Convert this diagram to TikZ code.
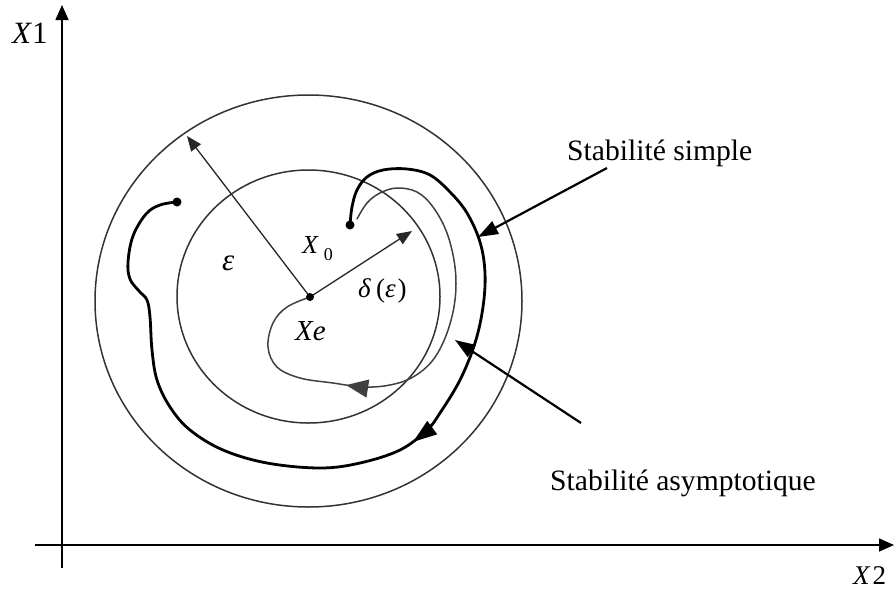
\documentclass[tikz,border=0pt]{standalone}
\usepackage{fontspec}
\setmainfont{Liberation Serif}
\usetikzlibrary{arrows.meta,decorations.markings}
\begin{document}
\begin{tikzpicture}[x=1pt,y=-1pt,
  circ/.style={line width=1.5pt, draw=black!80},
  axisline/.style={line width=1.6pt, -{Triangle[length=15pt,width=13pt]}},
  radarrow/.style={line width=1.3pt, draw=black!85, -{Triangle[length=15pt,width=12pt]}},
  labarrow/.style={line width=2.2pt, -{Triangle[length=20pt,width=14pt]}},
  thicktraj/.style={line width=2.8pt, line cap=round, line join=round},
  thintraj/.style={line width=1.5pt, draw=black!75, line cap=round, line join=round},
  lab/.style={inner sep=0pt, anchor=base west},
  dotfill/.style={fill=black}]
\useasboundingbox (0,0) rectangle (894,592);

% axes
\coordinate (ybot) at (62,568);
\coordinate (ytop) at (62,5);
\coordinate (xleft) at (35,545);
\coordinate (xright) at (894,545);
\draw[axisline] (ybot) -- (ytop);
\draw[axisline] (xleft) -- (xright);
\node[lab] (lx1) at (12,43) {\fontsize{31}{31}\selectfont\textit{X}1};
\node[lab] (lx2) at (853,584) {\fontsize{27}{27}\selectfont\textit{X}\kern2pt 2};

% circles
\draw[circ] (308.5,301) ellipse [x radius=213.5pt, y radius=206pt];
\draw[circ] (308.5,296.5) ellipse [x radius=131.5pt, y radius=126.5pt];

% centre and radii
\coordinate (xe) at (310,297);
\coordinate (epsT) at (187,136);
\coordinate (delT) at (412,231);
\draw[radarrow] (xe) -- (epsT);
\draw[radarrow] (xe) -- (delT);

% thick trajectory (simple stability)
\draw[thicktraj, postaction={decorate, decoration={markings,
   mark=at position 0.455 with {\arrow{Triangle[length=24pt,width=16pt]}}}}]
  plot[smooth, tension=0.6] coordinates {
  (350,225) (352,207) (357,190) (367,177) (383,170) (407,169) (430,175)
  (450,192) (467,213) (480,242) (485,273) (483,307) (475,343) (460,380)
  (440,413) (427,430) (400,450) (360,463) (320,468) (267,463) (223,450)
  (190,430) (170,407) (157,380) (152,350) (150,317) (147,300) (139,291)
  (130,279) (128,262) (133,236) (146,214) (160,205) (177,202)};

% thin trajectory (asymptotic stability)
\draw[thintraj, postaction={decorate, decoration={markings,
   mark=at position 0.68 with {\arrow{Triangle[length=22pt,width=18pt]}}}}]
  plot[smooth, tension=0.6] coordinates {
  (357,219) (367,203) (380,193) (397,188) (417,192) (433,207) (447,233)
  (455,267) (455,300) (447,333) (433,360) (413,377) (390,385) (363,387)
  (333,383) (300,378) (277,367) (268,347) (273,323) (287,307) (310,297)};

% dots
\coordinate (x0) at (350,225);
\coordinate (xend) at (177,202);
\fill[dotfill] (x0) circle [radius=4.5pt];
\fill[dotfill] (xend) circle [radius=4.5pt];
\fill[dotfill] (xe) circle [radius=4pt];

% labels inside
\node[lab] (leps) at (222,270) {\fontsize{31}{31}\selectfont\textit{ε}};
\node[lab] (lx0) at (302,253) {\fontsize{26}{26}\selectfont\textit{X}\kern5pt\raisebox{-7pt}{\fontsize{18}{18}\selectfont 0}};
\node[lab] (ldel) at (358,297) {\fontsize{27}{27}\selectfont\textit{δ}\kern5pt(\textit{ε}\kern2pt)};
\node[lab] (lxe) at (295,340) {\fontsize{29}{29}\selectfont\textit{Xe}};

% stability labels and arrows
\node[lab] (ls) at (567,160) {\fontsize{29.6}{30}\selectfont Stabilité simple};
\node[lab] (la) at (550,490) {\fontsize{29.6}{30}\selectfont Stabilité asymptotique};
\coordinate (sS) at (607,168);
\coordinate (sT) at (478,237);
\coordinate (aS) at (581,423);
\coordinate (aT) at (455,340);
\draw[labarrow] (sS) -- (sT);
\draw[labarrow] (aS) -- (aT);
\end{tikzpicture}
\end{document}
